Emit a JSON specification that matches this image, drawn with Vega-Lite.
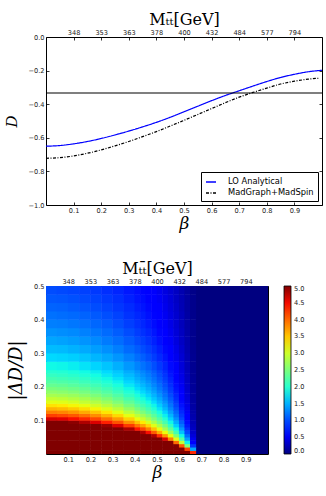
{
"$schema": "https://vega.github.io/schema/vega-lite/v6.json",
"background": "white",
"padding": {"left": 4, "top": 10, "right": 2, "bottom": 2},
"config": {
 "view": {"stroke": "black", "strokeWidth": 1},
 "axis": {"domain": false, "grid": false, "labelFont": "DejaVu Sans", "labelFontSize": 6.6, "labelColor": "#222", "tickColor": "black", "tickSize": -3, "tickWidth": 0.8, "labelPadding": 5, "labelFlush": false, "labelOverlap": false, "titleFont": "DejaVu Serif", "titleFontWeight": "normal", "titleColor": "black"},
 "concat": {"spacing": 26}
},
"datasets": {
 "curves": [
  {"b":0,"d":-0.65,"s":"LO Analytical"},{"b":0.05,"d":-0.646,"s":"LO Analytical"},{"b":0.1,"d":-0.636,"s":"LO Analytical"},{"b":0.15,"d":-0.622,"s":"LO Analytical"},{"b":0.2,"d":-0.604,"s":"LO Analytical"},{"b":0.25,"d":-0.583,"s":"LO Analytical"},{"b":0.3,"d":-0.56,"s":"LO Analytical"},{"b":0.35,"d":-0.535,"s":"LO Analytical"},{"b":0.4,"d":-0.508,"s":"LO Analytical"},{"b":0.45,"d":-0.478,"s":"LO Analytical"},{"b":0.5,"d":-0.445,"s":"LO Analytical"},{"b":0.55,"d":-0.412,"s":"LO Analytical"},{"b":0.6,"d":-0.379,"s":"LO Analytical"},{"b":0.65,"d":-0.348,"s":"LO Analytical"},{"b":0.7,"d":-0.32,"s":"LO Analytical"},{"b":0.75,"d":-0.292,"s":"LO Analytical"},{"b":0.8,"d":-0.265,"s":"LO Analytical"},{"b":0.85,"d":-0.241,"s":"LO Analytical"},{"b":0.9,"d":-0.222,"s":"LO Analytical"},{"b":0.95,"d":-0.207,"s":"LO Analytical"},{"b":1.0,"d":-0.198,"s":"LO Analytical"},
  {"b":0,"d":-0.722,"s":"MadGraph+MadSpin"},{"b":0.05,"d":-0.718,"s":"MadGraph+MadSpin"},{"b":0.1,"d":-0.708,"s":"MadGraph+MadSpin"},{"b":0.15,"d":-0.692,"s":"MadGraph+MadSpin"},{"b":0.2,"d":-0.672,"s":"MadGraph+MadSpin"},{"b":0.25,"d":-0.648,"s":"MadGraph+MadSpin"},{"b":0.3,"d":-0.622,"s":"MadGraph+MadSpin"},{"b":0.35,"d":-0.593,"s":"MadGraph+MadSpin"},{"b":0.4,"d":-0.563,"s":"MadGraph+MadSpin"},{"b":0.45,"d":-0.53,"s":"MadGraph+MadSpin"},{"b":0.5,"d":-0.496,"s":"MadGraph+MadSpin"},{"b":0.55,"d":-0.461,"s":"MadGraph+MadSpin"},{"b":0.6,"d":-0.426,"s":"MadGraph+MadSpin"},{"b":0.65,"d":-0.391,"s":"MadGraph+MadSpin"},{"b":0.7,"d":-0.358,"s":"MadGraph+MadSpin"},{"b":0.75,"d":-0.33,"s":"MadGraph+MadSpin"},{"b":0.8,"d":-0.304,"s":"MadGraph+MadSpin"},{"b":0.85,"d":-0.28,"s":"MadGraph+MadSpin"},{"b":0.9,"d":-0.263,"s":"MadGraph+MadSpin"},{"b":0.95,"d":-0.251,"s":"MadGraph+MadSpin"},{"b":0.99,"d":-0.245,"s":"MadGraph+MadSpin"}
 ],
 "af": [
  {"b":0.025,"y":0.005,"v":5},{"b":0.025,"y":0.015,"v":5},{"b":0.025,"y":0.025,"v":5},{"b":0.025,"y":0.035,"v":5},{"b":0.025,"y":0.045,"v":5},{"b":0.025,"y":0.055,"v":5},{"b":0.025,"y":0.065,"v":5},{"b":0.025,"y":0.075,"v":5},{"b":0.025,"y":0.085,"v":5},{"b":0.025,"y":0.095,"v":5},{"b":0.025,"y":0.105,"v":4.62},{"b":0.025,"y":0.115,"v":4.22},{"b":0.025,"y":0.125,"v":3.88},{"b":0.025,"y":0.135,"v":3.6},{"b":0.025,"y":0.145,"v":3.35},{"b":0.025,"y":0.155,"v":3.13},{"b":0.025,"y":0.165,"v":2.94},{"b":0.025,"y":0.175,"v":2.77},{"b":0.025,"y":0.185,"v":2.62},{"b":0.025,"y":0.195,"v":2.49},{"b":0.025,"y":0.205,"v":2.37},{"b":0.025,"y":0.215,"v":2.26},{"b":0.025,"y":0.225,"v":2.16},{"b":0.025,"y":0.235,"v":2.07},{"b":0.025,"y":0.245,"v":1.98},
  {"b":0.075,"y":0.005,"v":5},{"b":0.075,"y":0.015,"v":5},{"b":0.075,"y":0.025,"v":5},{"b":0.075,"y":0.035,"v":5},{"b":0.075,"y":0.045,"v":5},{"b":0.075,"y":0.055,"v":5},{"b":0.075,"y":0.065,"v":5},{"b":0.075,"y":0.075,"v":5},{"b":0.075,"y":0.085,"v":5},{"b":0.075,"y":0.095,"v":5},{"b":0.075,"y":0.105,"v":4.57},{"b":0.075,"y":0.115,"v":4.17},{"b":0.075,"y":0.125,"v":3.84},{"b":0.075,"y":0.135,"v":3.56},{"b":0.075,"y":0.145,"v":3.31},{"b":0.075,"y":0.155,"v":3.1},{"b":0.075,"y":0.165,"v":2.91},{"b":0.075,"y":0.175,"v":2.74},{"b":0.075,"y":0.185,"v":2.59},{"b":0.075,"y":0.195,"v":2.46},{"b":0.075,"y":0.205,"v":2.34},{"b":0.075,"y":0.215,"v":2.23},{"b":0.075,"y":0.225,"v":2.13},{"b":0.075,"y":0.235,"v":2.04},{"b":0.075,"y":0.245,"v":1.96},
  {"b":0.125,"y":0.005,"v":5},{"b":0.125,"y":0.015,"v":5},{"b":0.125,"y":0.025,"v":5},{"b":0.125,"y":0.035,"v":5},{"b":0.125,"y":0.045,"v":5},{"b":0.125,"y":0.055,"v":5},{"b":0.125,"y":0.065,"v":5},{"b":0.125,"y":0.075,"v":5},{"b":0.125,"y":0.085,"v":5},{"b":0.125,"y":0.095,"v":4.95},{"b":0.125,"y":0.105,"v":4.48},{"b":0.125,"y":0.115,"v":4.09},{"b":0.125,"y":0.125,"v":3.76},{"b":0.125,"y":0.135,"v":3.48},{"b":0.125,"y":0.145,"v":3.24},{"b":0.125,"y":0.155,"v":3.03},{"b":0.125,"y":0.165,"v":2.85},{"b":0.125,"y":0.175,"v":2.69},{"b":0.125,"y":0.185,"v":2.54},{"b":0.125,"y":0.195,"v":2.41},{"b":0.125,"y":0.205,"v":2.29},{"b":0.125,"y":0.215,"v":2.19},{"b":0.125,"y":0.225,"v":2.09},{"b":0.125,"y":0.235,"v":2.0},{"b":0.125,"y":0.245,"v":1.92},
  {"b":0.175,"y":0.005,"v":5},{"b":0.175,"y":0.015,"v":5},{"b":0.175,"y":0.025,"v":5},{"b":0.175,"y":0.035,"v":5},{"b":0.175,"y":0.045,"v":5},{"b":0.175,"y":0.055,"v":5},{"b":0.175,"y":0.065,"v":5},{"b":0.175,"y":0.075,"v":5},{"b":0.175,"y":0.085,"v":5},{"b":0.175,"y":0.095,"v":4.8},{"b":0.175,"y":0.105,"v":4.35},{"b":0.175,"y":0.115,"v":3.97},{"b":0.175,"y":0.125,"v":3.65},{"b":0.175,"y":0.135,"v":3.38},{"b":0.175,"y":0.145,"v":3.15},{"b":0.175,"y":0.155,"v":2.94},{"b":0.175,"y":0.165,"v":2.77},{"b":0.175,"y":0.175,"v":2.61},{"b":0.175,"y":0.185,"v":2.47},{"b":0.175,"y":0.195,"v":2.34},{"b":0.175,"y":0.205,"v":2.23},{"b":0.175,"y":0.215,"v":2.12},{"b":0.175,"y":0.225,"v":2.03},{"b":0.175,"y":0.235,"v":1.94},{"b":0.175,"y":0.245,"v":1.86},
  {"b":0.225,"y":0.005,"v":5},{"b":0.225,"y":0.015,"v":5},{"b":0.225,"y":0.025,"v":5},{"b":0.225,"y":0.035,"v":5},{"b":0.225,"y":0.045,"v":5},{"b":0.225,"y":0.055,"v":5},{"b":0.225,"y":0.065,"v":5},{"b":0.225,"y":0.075,"v":5},{"b":0.225,"y":0.085,"v":5},{"b":0.225,"y":0.095,"v":4.61},{"b":0.225,"y":0.105,"v":4.18},{"b":0.225,"y":0.115,"v":3.81},{"b":0.225,"y":0.125,"v":3.51},{"b":0.225,"y":0.135,"v":3.25},{"b":0.225,"y":0.145,"v":3.02},{"b":0.225,"y":0.155,"v":2.83},{"b":0.225,"y":0.165,"v":2.66},{"b":0.225,"y":0.175,"v":2.51},{"b":0.225,"y":0.185,"v":2.37},{"b":0.225,"y":0.195,"v":2.25},{"b":0.225,"y":0.205,"v":2.14},{"b":0.225,"y":0.215,"v":2.04},{"b":0.225,"y":0.225,"v":1.95},{"b":0.225,"y":0.235,"v":1.87},{"b":0.225,"y":0.245,"v":1.79},
  {"b":0.275,"y":0.005,"v":5},{"b":0.275,"y":0.015,"v":5},{"b":0.275,"y":0.025,"v":5},{"b":0.275,"y":0.035,"v":5},{"b":0.275,"y":0.045,"v":5},{"b":0.275,"y":0.055,"v":5},{"b":0.275,"y":0.065,"v":5},{"b":0.275,"y":0.075,"v":5},{"b":0.275,"y":0.085,"v":4.9},{"b":0.275,"y":0.095,"v":4.39},{"b":0.275,"y":0.105,"v":3.97},{"b":0.275,"y":0.115,"v":3.62},{"b":0.275,"y":0.125,"v":3.33},{"b":0.275,"y":0.135,"v":3.09},{"b":0.275,"y":0.145,"v":2.87},{"b":0.275,"y":0.155,"v":2.69},{"b":0.275,"y":0.165,"v":2.53},{"b":0.275,"y":0.175,"v":2.38},{"b":0.275,"y":0.185,"v":2.25},{"b":0.275,"y":0.195,"v":2.14},{"b":0.275,"y":0.205,"v":2.03},{"b":0.275,"y":0.215,"v":1.94},{"b":0.275,"y":0.225,"v":1.85},{"b":0.275,"y":0.235,"v":1.77},{"b":0.275,"y":0.245,"v":1.7},
  {"b":0.325,"y":0.005,"v":5},{"b":0.325,"y":0.015,"v":5},{"b":0.325,"y":0.025,"v":5},{"b":0.325,"y":0.035,"v":5},{"b":0.325,"y":0.045,"v":5},{"b":0.325,"y":0.055,"v":5},{"b":0.325,"y":0.065,"v":5},{"b":0.325,"y":0.075,"v":5},{"b":0.325,"y":0.085,"v":4.6},{"b":0.325,"y":0.095,"v":4.12},{"b":0.325,"y":0.105,"v":3.73},{"b":0.325,"y":0.115,"v":3.4},{"b":0.325,"y":0.125,"v":3.13},{"b":0.325,"y":0.135,"v":2.9},{"b":0.325,"y":0.145,"v":2.7},{"b":0.325,"y":0.155,"v":2.52},{"b":0.325,"y":0.165,"v":2.37},{"b":0.325,"y":0.175,"v":2.24},{"b":0.325,"y":0.185,"v":2.11},{"b":0.325,"y":0.195,"v":2.01},{"b":0.325,"y":0.205,"v":1.91},{"b":0.325,"y":0.215,"v":1.82},{"b":0.325,"y":0.225,"v":1.74},{"b":0.325,"y":0.235,"v":1.66},{"b":0.325,"y":0.245,"v":1.6},
  {"b":0.375,"y":0.005,"v":5},{"b":0.375,"y":0.015,"v":5},{"b":0.375,"y":0.025,"v":5},{"b":0.375,"y":0.035,"v":5},{"b":0.375,"y":0.045,"v":5},{"b":0.375,"y":0.055,"v":5},{"b":0.375,"y":0.065,"v":5},{"b":0.375,"y":0.075,"v":4.81},{"b":0.375,"y":0.085,"v":4.25},{"b":0.375,"y":0.095,"v":3.8},{"b":0.375,"y":0.105,"v":3.44},{"b":0.375,"y":0.115,"v":3.14},{"b":0.375,"y":0.125,"v":2.89},{"b":0.375,"y":0.135,"v":2.67},{"b":0.375,"y":0.145,"v":2.49},{"b":0.375,"y":0.155,"v":2.33},{"b":0.375,"y":0.165,"v":2.19},{"b":0.375,"y":0.175,"v":2.06},{"b":0.375,"y":0.185,"v":1.95},{"b":0.375,"y":0.195,"v":1.85},{"b":0.375,"y":0.205,"v":1.76},{"b":0.375,"y":0.215,"v":1.68},{"b":0.375,"y":0.225,"v":1.6},{"b":0.375,"y":0.235,"v":1.54},{"b":0.375,"y":0.245,"v":1.47}
 ],
 "ac": [
  {"b":0.025,"y":0.2625,"v":1.85},{"b":0.025,"y":0.2875,"v":1.69},{"b":0.025,"y":0.3125,"v":1.55},{"b":0.025,"y":0.3375,"v":1.44},{"b":0.025,"y":0.3625,"v":1.34},{"b":0.025,"y":0.3875,"v":1.25},{"b":0.025,"y":0.4125,"v":1.18},{"b":0.025,"y":0.4375,"v":1.11},{"b":0.025,"y":0.4625,"v":1.05},{"b":0.025,"y":0.4875,"v":1.0},
  {"b":0.075,"y":0.2625,"v":1.83},{"b":0.075,"y":0.2875,"v":1.67},{"b":0.075,"y":0.3125,"v":1.54},{"b":0.075,"y":0.3375,"v":1.42},{"b":0.075,"y":0.3625,"v":1.32},{"b":0.075,"y":0.3875,"v":1.24},{"b":0.075,"y":0.4125,"v":1.16},{"b":0.075,"y":0.4375,"v":1.1},{"b":0.075,"y":0.4625,"v":1.04},{"b":0.075,"y":0.4875,"v":0.98},
  {"b":0.125,"y":0.2625,"v":1.79},{"b":0.125,"y":0.2875,"v":1.64},{"b":0.125,"y":0.3125,"v":1.5},{"b":0.125,"y":0.3375,"v":1.39},{"b":0.125,"y":0.3625,"v":1.3},{"b":0.125,"y":0.3875,"v":1.21},{"b":0.125,"y":0.4125,"v":1.14},{"b":0.125,"y":0.4375,"v":1.07},{"b":0.125,"y":0.4625,"v":1.02},{"b":0.125,"y":0.4875,"v":0.96},
  {"b":0.175,"y":0.2625,"v":1.74},{"b":0.175,"y":0.2875,"v":1.59},{"b":0.175,"y":0.3125,"v":1.46},{"b":0.175,"y":0.3375,"v":1.35},{"b":0.175,"y":0.3625,"v":1.26},{"b":0.175,"y":0.3875,"v":1.18},{"b":0.175,"y":0.4125,"v":1.11},{"b":0.175,"y":0.4375,"v":1.04},{"b":0.175,"y":0.4625,"v":0.99},{"b":0.175,"y":0.4875,"v":0.94},
  {"b":0.225,"y":0.2625,"v":1.67},{"b":0.225,"y":0.2875,"v":1.52},{"b":0.225,"y":0.3125,"v":1.4},{"b":0.225,"y":0.3375,"v":1.3},{"b":0.225,"y":0.3625,"v":1.21},{"b":0.225,"y":0.3875,"v":1.13},{"b":0.225,"y":0.4125,"v":1.06},{"b":0.225,"y":0.4375,"v":1.0},{"b":0.225,"y":0.4625,"v":0.95},{"b":0.225,"y":0.4875,"v":0.9},
  {"b":0.275,"y":0.2625,"v":1.59},{"b":0.275,"y":0.2875,"v":1.45},{"b":0.275,"y":0.3125,"v":1.33},{"b":0.275,"y":0.3375,"v":1.23},{"b":0.275,"y":0.3625,"v":1.15},{"b":0.275,"y":0.3875,"v":1.08},{"b":0.275,"y":0.4125,"v":1.01},{"b":0.275,"y":0.4375,"v":0.95},{"b":0.275,"y":0.4625,"v":0.9},{"b":0.275,"y":0.4875,"v":0.85},
  {"b":0.325,"y":0.2625,"v":1.49},{"b":0.325,"y":0.2875,"v":1.36},{"b":0.325,"y":0.3125,"v":1.25},{"b":0.325,"y":0.3375,"v":1.16},{"b":0.325,"y":0.3625,"v":1.08},{"b":0.325,"y":0.3875,"v":1.01},{"b":0.325,"y":0.4125,"v":0.95},{"b":0.325,"y":0.4375,"v":0.89},{"b":0.325,"y":0.4625,"v":0.85},{"b":0.325,"y":0.4875,"v":0.8},
  {"b":0.375,"y":0.2625,"v":1.37},{"b":0.375,"y":0.2875,"v":1.26},{"b":0.375,"y":0.3125,"v":1.15},{"b":0.375,"y":0.3375,"v":1.07},{"b":0.375,"y":0.3625,"v":1.0},{"b":0.375,"y":0.3875,"v":0.93},{"b":0.375,"y":0.4125,"v":0.87},{"b":0.375,"y":0.4375,"v":0.83},{"b":0.375,"y":0.4625,"v":0.78},{"b":0.375,"y":0.4875,"v":0.74}
 ],
 "bf": [
  {"b":0.4125,"y":0.005,"v":5},{"b":0.4125,"y":0.015,"v":5},{"b":0.4125,"y":0.025,"v":5},{"b":0.4125,"y":0.035,"v":5},{"b":0.4125,"y":0.045,"v":5},{"b":0.4125,"y":0.055,"v":5},{"b":0.4125,"y":0.065,"v":5},{"b":0.4125,"y":0.075,"v":4.45},{"b":0.4125,"y":0.085,"v":3.93},{"b":0.4125,"y":0.095,"v":3.52},{"b":0.4125,"y":0.105,"v":3.18},{"b":0.4125,"y":0.115,"v":2.9},{"b":0.4125,"y":0.125,"v":2.67},{"b":0.4125,"y":0.135,"v":2.47},{"b":0.4125,"y":0.145,"v":2.3},{"b":0.4125,"y":0.155,"v":2.15},{"b":0.4125,"y":0.165,"v":2.02},{"b":0.4125,"y":0.175,"v":1.91},{"b":0.4125,"y":0.185,"v":1.81},{"b":0.4125,"y":0.195,"v":1.71},{"b":0.4125,"y":0.205,"v":1.63},{"b":0.4125,"y":0.215,"v":1.55},{"b":0.4125,"y":0.225,"v":1.48},{"b":0.4125,"y":0.235,"v":1.42},{"b":0.4125,"y":0.245,"v":1.36},
  {"b":0.4375,"y":0.005,"v":5},{"b":0.4375,"y":0.015,"v":5},{"b":0.4375,"y":0.025,"v":5},{"b":0.4375,"y":0.035,"v":5},{"b":0.4375,"y":0.045,"v":5},{"b":0.4375,"y":0.055,"v":5},{"b":0.4375,"y":0.065,"v":4.82},{"b":0.4375,"y":0.075,"v":4.18},{"b":0.4375,"y":0.085,"v":3.69},{"b":0.4375,"y":0.095,"v":3.3},{"b":0.4375,"y":0.105,"v":2.99},{"b":0.4375,"y":0.115,"v":2.73},{"b":0.4375,"y":0.125,"v":2.51},{"b":0.4375,"y":0.135,"v":2.32},{"b":0.4375,"y":0.145,"v":2.16},{"b":0.4375,"y":0.155,"v":2.02},{"b":0.4375,"y":0.165,"v":1.9},{"b":0.4375,"y":0.175,"v":1.79},{"b":0.4375,"y":0.185,"v":1.69},{"b":0.4375,"y":0.195,"v":1.61},{"b":0.4375,"y":0.205,"v":1.53},{"b":0.4375,"y":0.215,"v":1.46},{"b":0.4375,"y":0.225,"v":1.39},{"b":0.4375,"y":0.235,"v":1.33},{"b":0.4375,"y":0.245,"v":1.28},
  {"b":0.4625,"y":0.005,"v":5},{"b":0.4625,"y":0.015,"v":5},{"b":0.4625,"y":0.025,"v":5},{"b":0.4625,"y":0.035,"v":5},{"b":0.4625,"y":0.045,"v":5},{"b":0.4625,"y":0.055,"v":5},{"b":0.4625,"y":0.065,"v":4.47},{"b":0.4625,"y":0.075,"v":3.87},{"b":0.4625,"y":0.085,"v":3.42},{"b":0.4625,"y":0.095,"v":3.06},{"b":0.4625,"y":0.105,"v":2.77},{"b":0.4625,"y":0.115,"v":2.53},{"b":0.4625,"y":0.125,"v":2.32},{"b":0.4625,"y":0.135,"v":2.15},{"b":0.4625,"y":0.145,"v":2.0},{"b":0.4625,"y":0.155,"v":1.87},{"b":0.4625,"y":0.165,"v":1.76},{"b":0.4625,"y":0.175,"v":1.66},{"b":0.4625,"y":0.185,"v":1.57},{"b":0.4625,"y":0.195,"v":1.49},{"b":0.4625,"y":0.205,"v":1.42},{"b":0.4625,"y":0.215,"v":1.35},{"b":0.4625,"y":0.225,"v":1.29},{"b":0.4625,"y":0.235,"v":1.24},{"b":0.4625,"y":0.245,"v":1.19},
  {"b":0.4875,"y":0.005,"v":5},{"b":0.4875,"y":0.015,"v":5},{"b":0.4875,"y":0.025,"v":5},{"b":0.4875,"y":0.035,"v":5},{"b":0.4875,"y":0.045,"v":5},{"b":0.4875,"y":0.055,"v":4.81},{"b":0.4875,"y":0.065,"v":4.07},{"b":0.4875,"y":0.075,"v":3.53},{"b":0.4875,"y":0.085,"v":3.11},{"b":0.4875,"y":0.095,"v":2.79},{"b":0.4875,"y":0.105,"v":2.52},{"b":0.4875,"y":0.115,"v":2.3},{"b":0.4875,"y":0.125,"v":2.12},{"b":0.4875,"y":0.135,"v":1.96},{"b":0.4875,"y":0.145,"v":1.83},{"b":0.4875,"y":0.155,"v":1.71},{"b":0.4875,"y":0.165,"v":1.6},{"b":0.4875,"y":0.175,"v":1.51},{"b":0.4875,"y":0.185,"v":1.43},{"b":0.4875,"y":0.195,"v":1.36},{"b":0.4875,"y":0.205,"v":1.29},{"b":0.4875,"y":0.215,"v":1.23},{"b":0.4875,"y":0.225,"v":1.18},{"b":0.4875,"y":0.235,"v":1.13},{"b":0.4875,"y":0.245,"v":1.08},
  {"b":0.5125,"y":0.005,"v":5},{"b":0.5125,"y":0.015,"v":5},{"b":0.5125,"y":0.025,"v":5},{"b":0.5125,"y":0.035,"v":5},{"b":0.5125,"y":0.045,"v":5},{"b":0.5125,"y":0.055,"v":4.31},{"b":0.5125,"y":0.065,"v":3.64},{"b":0.5125,"y":0.075,"v":3.16},{"b":0.5125,"y":0.085,"v":2.79},{"b":0.5125,"y":0.095,"v":2.49},{"b":0.5125,"y":0.105,"v":2.26},{"b":0.5125,"y":0.115,"v":2.06},{"b":0.5125,"y":0.125,"v":1.9},{"b":0.5125,"y":0.135,"v":1.75},{"b":0.5125,"y":0.145,"v":1.63},{"b":0.5125,"y":0.155,"v":1.53},{"b":0.5125,"y":0.165,"v":1.44},{"b":0.5125,"y":0.175,"v":1.35},{"b":0.5125,"y":0.185,"v":1.28},{"b":0.5125,"y":0.195,"v":1.21},{"b":0.5125,"y":0.205,"v":1.16},{"b":0.5125,"y":0.215,"v":1.1},{"b":0.5125,"y":0.225,"v":1.05},{"b":0.5125,"y":0.235,"v":1.01},{"b":0.5125,"y":0.245,"v":0.97},
  {"b":0.5375,"y":0.005,"v":5},{"b":0.5375,"y":0.015,"v":5},{"b":0.5375,"y":0.025,"v":5},{"b":0.5375,"y":0.035,"v":5},{"b":0.5375,"y":0.045,"v":4.6},{"b":0.5375,"y":0.055,"v":3.76},{"b":0.5375,"y":0.065,"v":3.18},{"b":0.5375,"y":0.075,"v":2.76},{"b":0.5375,"y":0.085,"v":2.44},{"b":0.5375,"y":0.095,"v":2.18},{"b":0.5375,"y":0.105,"v":1.97},{"b":0.5375,"y":0.115,"v":1.8},{"b":0.5375,"y":0.125,"v":1.66},{"b":0.5375,"y":0.135,"v":1.53},{"b":0.5375,"y":0.145,"v":1.43},{"b":0.5375,"y":0.155,"v":1.34},{"b":0.5375,"y":0.165,"v":1.25},{"b":0.5375,"y":0.175,"v":1.18},{"b":0.5375,"y":0.185,"v":1.12},{"b":0.5375,"y":0.195,"v":1.06},{"b":0.5375,"y":0.205,"v":1.01},{"b":0.5375,"y":0.215,"v":0.96},{"b":0.5375,"y":0.225,"v":0.92},{"b":0.5375,"y":0.235,"v":0.88},{"b":0.5375,"y":0.245,"v":0.84},
  {"b":0.5625,"y":0.005,"v":5},{"b":0.5625,"y":0.015,"v":5},{"b":0.5625,"y":0.025,"v":5},{"b":0.5625,"y":0.035,"v":4.99},{"b":0.5625,"y":0.045,"v":3.88},{"b":0.5625,"y":0.055,"v":3.17},{"b":0.5625,"y":0.065,"v":2.69},{"b":0.5625,"y":0.075,"v":2.33},{"b":0.5625,"y":0.085,"v":2.05},{"b":0.5625,"y":0.095,"v":1.84},{"b":0.5625,"y":0.105,"v":1.66},{"b":0.5625,"y":0.115,"v":1.52},{"b":0.5625,"y":0.125,"v":1.4},{"b":0.5625,"y":0.135,"v":1.29},{"b":0.5625,"y":0.145,"v":1.2},{"b":0.5625,"y":0.155,"v":1.13},{"b":0.5625,"y":0.165,"v":1.06},{"b":0.5625,"y":0.175,"v":1.0},{"b":0.5625,"y":0.185,"v":0.94},{"b":0.5625,"y":0.195,"v":0.9},{"b":0.5625,"y":0.205,"v":0.85},{"b":0.5625,"y":0.215,"v":0.81},{"b":0.5625,"y":0.225,"v":0.78},{"b":0.5625,"y":0.235,"v":0.74},{"b":0.5625,"y":0.245,"v":0.71},
  {"b":0.5875,"y":0.005,"v":5},{"b":0.5875,"y":0.015,"v":5},{"b":0.5875,"y":0.025,"v":5},{"b":0.5875,"y":0.035,"v":3.98},{"b":0.5875,"y":0.045,"v":3.1},{"b":0.5875,"y":0.055,"v":2.53},{"b":0.5875,"y":0.065,"v":2.14},{"b":0.5875,"y":0.075,"v":1.86},{"b":0.5875,"y":0.085,"v":1.64},{"b":0.5875,"y":0.095,"v":1.47},{"b":0.5875,"y":0.105,"v":1.33},{"b":0.5875,"y":0.115,"v":1.21},{"b":0.5875,"y":0.125,"v":1.12},{"b":0.5875,"y":0.135,"v":1.03},{"b":0.5875,"y":0.145,"v":0.96},{"b":0.5875,"y":0.155,"v":0.9},{"b":0.5875,"y":0.165,"v":0.84},{"b":0.5875,"y":0.175,"v":0.8},{"b":0.5875,"y":0.185,"v":0.75},{"b":0.5875,"y":0.195,"v":0.71},{"b":0.5875,"y":0.205,"v":0.68},{"b":0.5875,"y":0.215,"v":0.65},{"b":0.5875,"y":0.225,"v":0.62},{"b":0.5875,"y":0.235,"v":0.59},{"b":0.5875,"y":0.245,"v":0.57},
  {"b":0.6125,"y":0.005,"v":5},{"b":0.6125,"y":0.015,"v":5},{"b":0.6125,"y":0.025,"v":4.09},{"b":0.6125,"y":0.035,"v":2.92},{"b":0.6125,"y":0.045,"v":2.27},{"b":0.6125,"y":0.055,"v":1.86},{"b":0.6125,"y":0.065,"v":1.57},{"b":0.6125,"y":0.075,"v":1.36},{"b":0.6125,"y":0.085,"v":1.2},{"b":0.6125,"y":0.095,"v":1.08},{"b":0.6125,"y":0.105,"v":0.97},{"b":0.6125,"y":0.115,"v":0.89},{"b":0.6125,"y":0.125,"v":0.82},{"b":0.6125,"y":0.135,"v":0.76},{"b":0.6125,"y":0.145,"v":0.71},{"b":0.6125,"y":0.155,"v":0.66},{"b":0.6125,"y":0.165,"v":0.62},{"b":0.6125,"y":0.175,"v":0.58},{"b":0.6125,"y":0.185,"v":0.55},{"b":0.6125,"y":0.195,"v":0.52},{"b":0.6125,"y":0.205,"v":0.5},{"b":0.6125,"y":0.215,"v":0.48},{"b":0.6125,"y":0.225,"v":0.45},{"b":0.6125,"y":0.235,"v":0.44},{"b":0.6125,"y":0.245,"v":0.42},
  {"b":0.6375,"y":0.005,"v":5},{"b":0.6375,"y":0.015,"v":4.21},{"b":0.6375,"y":0.025,"v":2.53},{"b":0.6375,"y":0.035,"v":1.81},{"b":0.6375,"y":0.045,"v":1.4},{"b":0.6375,"y":0.055,"v":1.15},{"b":0.6375,"y":0.065,"v":0.97},{"b":0.6375,"y":0.075,"v":0.84},{"b":0.6375,"y":0.085,"v":0.74},{"b":0.6375,"y":0.095,"v":0.67},{"b":0.6375,"y":0.105,"v":0.6},{"b":0.6375,"y":0.115,"v":0.55},{"b":0.6375,"y":0.125,"v":0.51},{"b":0.6375,"y":0.135,"v":0.47},{"b":0.6375,"y":0.145,"v":0.44},{"b":0.6375,"y":0.155,"v":0.41},{"b":0.6375,"y":0.165,"v":0.38},{"b":0.6375,"y":0.175,"v":0.36},{"b":0.6375,"y":0.185,"v":0.34},{"b":0.6375,"y":0.195,"v":0.32},{"b":0.6375,"y":0.205,"v":0.31},{"b":0.6375,"y":0.215,"v":0.29},{"b":0.6375,"y":0.225,"v":0.28},{"b":0.6375,"y":0.235,"v":0.27},{"b":0.6375,"y":0.245,"v":0.26},
  {"b":0.6625,"y":0.005,"v":4.34},{"b":0.6625,"y":0.015,"v":1.45},{"b":0.6625,"y":0.025,"v":0.87},{"b":0.6625,"y":0.035,"v":0.62},{"b":0.6625,"y":0.045,"v":0.48},{"b":0.6625,"y":0.055,"v":0.39},{"b":0.6625,"y":0.065,"v":0.33},{"b":0.6625,"y":0.075,"v":0.29},{"b":0.6625,"y":0.085,"v":0.26},{"b":0.6625,"y":0.095,"v":0.23},{"b":0.6625,"y":0.105,"v":0.21},{"b":0.6625,"y":0.115,"v":0.19},{"b":0.6625,"y":0.125,"v":0.17},{"b":0.6625,"y":0.135,"v":0.16},{"b":0.6625,"y":0.145,"v":0.15},{"b":0.6625,"y":0.155,"v":0.14},{"b":0.6625,"y":0.165,"v":0.13},{"b":0.6625,"y":0.175,"v":0.12},{"b":0.6625,"y":0.185,"v":0.12},{"b":0.6625,"y":0.195,"v":0.11},{"b":0.6625,"y":0.205,"v":0.11},{"b":0.6625,"y":0.215,"v":0.1},{"b":0.6625,"y":0.225,"v":0.1},{"b":0.6625,"y":0.235,"v":0.09},{"b":0.6625,"y":0.245,"v":0.09}
 ],
 "bc": [
  {"b":0.4125,"y":0.2625,"v":1.27},{"b":0.4125,"y":0.2875,"v":1.16},{"b":0.4125,"y":0.3125,"v":1.07},{"b":0.4125,"y":0.3375,"v":0.99},{"b":0.4125,"y":0.3625,"v":0.92},{"b":0.4125,"y":0.3875,"v":0.86},{"b":0.4125,"y":0.4125,"v":0.81},{"b":0.4125,"y":0.4375,"v":0.76},{"b":0.4125,"y":0.4625,"v":0.72},{"b":0.4125,"y":0.4875,"v":0.69},
  {"b":0.4375,"y":0.2625,"v":1.19},{"b":0.4375,"y":0.2875,"v":1.09},{"b":0.4375,"y":0.3125,"v":1.0},{"b":0.4375,"y":0.3375,"v":0.93},{"b":0.4375,"y":0.3625,"v":0.86},{"b":0.4375,"y":0.3875,"v":0.81},{"b":0.4375,"y":0.4125,"v":0.76},{"b":0.4375,"y":0.4375,"v":0.72},{"b":0.4375,"y":0.4625,"v":0.68},{"b":0.4375,"y":0.4875,"v":0.64},
  {"b":0.4625,"y":0.2625,"v":1.11},{"b":0.4625,"y":0.2875,"v":1.01},{"b":0.4625,"y":0.3125,"v":0.93},{"b":0.4625,"y":0.3375,"v":0.86},{"b":0.4625,"y":0.3625,"v":0.8},{"b":0.4625,"y":0.3875,"v":0.75},{"b":0.4625,"y":0.4125,"v":0.7},{"b":0.4625,"y":0.4375,"v":0.66},{"b":0.4625,"y":0.4625,"v":0.63},{"b":0.4625,"y":0.4875,"v":0.6},
  {"b":0.4875,"y":0.2625,"v":1.01},{"b":0.4875,"y":0.2875,"v":0.92},{"b":0.4875,"y":0.3125,"v":0.85},{"b":0.4875,"y":0.3375,"v":0.78},{"b":0.4875,"y":0.3625,"v":0.73},{"b":0.4875,"y":0.3875,"v":0.68},{"b":0.4875,"y":0.4125,"v":0.64},{"b":0.4875,"y":0.4375,"v":0.61},{"b":0.4875,"y":0.4625,"v":0.57},{"b":0.4875,"y":0.4875,"v":0.54},
  {"b":0.5125,"y":0.2625,"v":0.9},{"b":0.5125,"y":0.2875,"v":0.82},{"b":0.5125,"y":0.3125,"v":0.76},{"b":0.5125,"y":0.3375,"v":0.7},{"b":0.5125,"y":0.3625,"v":0.65},{"b":0.5125,"y":0.3875,"v":0.61},{"b":0.5125,"y":0.4125,"v":0.57},{"b":0.5125,"y":0.4375,"v":0.54},{"b":0.5125,"y":0.4625,"v":0.51},{"b":0.5125,"y":0.4875,"v":0.49},
  {"b":0.5375,"y":0.2625,"v":0.79},{"b":0.5375,"y":0.2875,"v":0.72},{"b":0.5375,"y":0.3125,"v":0.66},{"b":0.5375,"y":0.3375,"v":0.61},{"b":0.5375,"y":0.3625,"v":0.57},{"b":0.5375,"y":0.3875,"v":0.53},{"b":0.5375,"y":0.4125,"v":0.5},{"b":0.5375,"y":0.4375,"v":0.47},{"b":0.5375,"y":0.4625,"v":0.45},{"b":0.5375,"y":0.4875,"v":0.42},
  {"b":0.5625,"y":0.2625,"v":0.67},{"b":0.5625,"y":0.2875,"v":0.61},{"b":0.5625,"y":0.3125,"v":0.56},{"b":0.5625,"y":0.3375,"v":0.52},{"b":0.5625,"y":0.3625,"v":0.48},{"b":0.5625,"y":0.3875,"v":0.45},{"b":0.5625,"y":0.4125,"v":0.42},{"b":0.5625,"y":0.4375,"v":0.4},{"b":0.5625,"y":0.4625,"v":0.38},{"b":0.5625,"y":0.4875,"v":0.36},
  {"b":0.5875,"y":0.2625,"v":0.53},{"b":0.5875,"y":0.2875,"v":0.48},{"b":0.5875,"y":0.3125,"v":0.45},{"b":0.5875,"y":0.3375,"v":0.41},{"b":0.5875,"y":0.3625,"v":0.38},{"b":0.5875,"y":0.3875,"v":0.36},{"b":0.5875,"y":0.4125,"v":0.34},{"b":0.5875,"y":0.4375,"v":0.32},{"b":0.5875,"y":0.4625,"v":0.3},{"b":0.5875,"y":0.4875,"v":0.29},
  {"b":0.6125,"y":0.2625,"v":0.39},{"b":0.6125,"y":0.2875,"v":0.36},{"b":0.6125,"y":0.3125,"v":0.33},{"b":0.6125,"y":0.3375,"v":0.3},{"b":0.6125,"y":0.3625,"v":0.28},{"b":0.6125,"y":0.3875,"v":0.26},{"b":0.6125,"y":0.4125,"v":0.25},{"b":0.6125,"y":0.4375,"v":0.23},{"b":0.6125,"y":0.4625,"v":0.22},{"b":0.6125,"y":0.4875,"v":0.21},
  {"b":0.6375,"y":0.2625,"v":0.24},{"b":0.6375,"y":0.2875,"v":0.22},{"b":0.6375,"y":0.3125,"v":0.2},{"b":0.6375,"y":0.3375,"v":0.19},{"b":0.6375,"y":0.3625,"v":0.17},{"b":0.6375,"y":0.3875,"v":0.16},{"b":0.6375,"y":0.4125,"v":0.15},{"b":0.6375,"y":0.4375,"v":0.14},{"b":0.6375,"y":0.4625,"v":0.14},{"b":0.6375,"y":0.4875,"v":0.13},
  {"b":0.6625,"y":0.2625,"v":0.08},{"b":0.6625,"y":0.2875,"v":0.08},{"b":0.6625,"y":0.3125,"v":0.07},{"b":0.6625,"y":0.3375,"v":0.06},{"b":0.6625,"y":0.3625,"v":0.06},{"b":0.6625,"y":0.3875,"v":0.06},{"b":0.6625,"y":0.4125,"v":0.05},{"b":0.6625,"y":0.4375,"v":0.05},{"b":0.6625,"y":0.4625,"v":0.05},{"b":0.6625,"y":0.4875,"v":0.04}
 ]
},
"vconcat": [
 {
  "width": 276, "height": 168,
  "layer": [
   {
    "data": {"name": "curves"},
    "mark": {"type": "line", "strokeWidth": 1.2, "interpolate": "monotone"},
    "encoding": {
     "x": {"field": "b", "type": "quantitative", "scale": {"domain": [0, 1], "nice": false},
           "axis": {"orient": "bottom", "values": [0.1,0.2,0.3,0.4,0.5,0.6,0.7,0.8,0.9], "format": ".1f", "title": "β", "titleFontStyle": "italic", "titleFontSize": 17, "titlePadding": 2}},
     "y": {"field": "d", "type": "quantitative", "scale": {"domain": [-1, 0], "nice": false},
           "axis": {"orient": "left", "values": [-1,-0.8,-0.6,-0.4,-0.2,0], "format": ".1f", "title": "D", "titleFontStyle": "italic", "titleFontSize": 15, "titlePadding": 8}},
     "color": {"field": "s", "type": "nominal", "scale": {"domain": ["LO Analytical", "MadGraph+MadSpin"], "range": ["#0000ff", "#000000"]},
               "legend": {"title": null, "orient": "bottom-right", "offset": 4, "fillColor": "white", "strokeColor": "black", "padding": 4, "symbolType": "stroke", "symbolSize": 100, "symbolStrokeWidth": 1.3, "labelFont": "DejaVu Sans", "labelFontSize": 8.3, "labelColor": "black", "labelOffset": 11, "rowPadding": 1}},
     "strokeDash": {"field": "s", "type": "nominal", "scale": {"domain": ["LO Analytical", "MadGraph+MadSpin"], "range": [[1, 0], [3, 1.5, 1, 1.5]]},
               "legend": {"title": null, "orient": "bottom-right", "offset": 4, "fillColor": "white", "strokeColor": "black", "padding": 4, "symbolType": "stroke", "symbolSize": 100, "symbolStrokeWidth": 1.3, "labelFont": "DejaVu Sans", "labelFontSize": 8.3, "labelColor": "black", "labelOffset": 11, "rowPadding": 1}}
    }
   },
   {
    "data": {"values": [{"b0": 0, "b1": 1, "d": -0.3333}]},
    "mark": {"type": "rule", "color": "black", "strokeWidth": 1.1},
    "encoding": {
     "x": {"field": "b0", "type": "quantitative",
           "axis": {"orient": "top", "values": [0.1,0.2,0.3,0.4,0.5,0.6,0.7,0.8,0.9], "labelExpr": "['','348','353','363','378','400','432','484','577','794'][round(datum.value*10)]", "title": "Mₜₜ̄[GeV]", "titleFontSize": 16, "titlePadding": 2}},
     "x2": {"field": "b1"},
     "y": {"field": "d", "type": "quantitative",
           "axis": {"orient": "right", "values": [-1,-0.8,-0.6,-0.4,-0.2,0], "labels": false, "title": null}}
    }
   }
  ],
  "resolve": {"axis": {"x": "independent", "y": "independent"}}
 },
 {
  "width": 222, "height": 168,
  "layer": [
   {
    "data": {"values": [{"b0": 0.675, "b1": 1, "y0": 0, "y1": 0.5, "v": 0}]},
    "mark": {"type": "rect"},
    "encoding": {
     "x": {"field": "b0", "type": "quantitative", "scale": {"domain": [0, 1], "nice": false},
           "axis": {"orient": "bottom", "values": [0.1,0.2,0.3,0.4,0.5,0.6,0.7,0.8,0.9], "format": ".1f", "title": "β", "titleFontStyle": "italic", "titleFontSize": 17, "titlePadding": 2}},
     "x2": {"field": "b1"},
     "y": {"field": "y0", "type": "quantitative", "scale": {"domain": [0, 0.5], "nice": false},
           "axis": {"orient": "left", "values": [0.1,0.2,0.3,0.4,0.5], "format": ".1f", "title": "|ΔD/D|", "titleFontStyle": "italic", "titleFontSize": 18, "titlePadding": 8}},
     "y2": {"field": "y1"},
     "color": {"field": "v", "type": "quantitative",
               "scale": {"domain": [0, 0.55, 0.625, 1.7, 1.875, 3.2, 3.3, 4.45, 4.55, 5], "range": ["#000080", "#0000ff", "#0000ff", "#00dbff", "#14ffe2", "#eeff08", "#ffec00", "#ff1300", "#e80000", "#800000"], "interpolate": "rgb", "clamp": true},
               "legend": {"type": "gradient", "title": null, "direction": "vertical", "gradientLength": 168, "gradientThickness": 7, "values": [0,0.5,1,1.5,2,2.5,3,3.5,4,4.5,5], "format": ".1f", "labelFont": "DejaVu Sans", "labelFontSize": 6.6, "labelColor": "#222", "gradientStrokeColor": "black", "gradientStrokeWidth": 0.8, "offset": 15, "labelOffset": 3, "labelOverlap": false}}
    }
   },
   {
    "data": {"name": "af"},
    "mark": {"type": "rect", "width": 11.6, "height": 3.9, "clip": true},
    "encoding": {
     "x": {"field": "b", "type": "quantitative",
           "axis": {"orient": "top", "values": [0.1,0.2,0.3,0.4,0.5,0.6,0.7,0.8,0.9], "labelExpr": "['','348','353','363','378','400','432','484','577','794'][round(datum.value*10)]", "title": "Mₜₜ̄[GeV]", "titleFontSize": 16, "titlePadding": 2}},
     "y": {"field": "y", "type": "quantitative",
           "axis": {"orient": "right", "values": [0.1,0.2,0.3,0.4,0.5], "labels": false, "title": null}},
     "color": {"field": "v", "type": "quantitative"}
    }
   },
   {
    "data": {"name": "ac"},
    "mark": {"type": "rect", "width": 11.6, "height": 8.9, "clip": true},
    "encoding": {
     "x": {"field": "b", "type": "quantitative", "axis": null},
     "y": {"field": "y", "type": "quantitative", "axis": null},
     "color": {"field": "v", "type": "quantitative"}
    }
   },
   {
    "data": {"name": "bf"},
    "mark": {"type": "rect", "width": 6.1, "height": 3.9, "clip": true},
    "encoding": {
     "x": {"field": "b", "type": "quantitative", "axis": null},
     "y": {"field": "y", "type": "quantitative", "axis": null},
     "color": {"field": "v", "type": "quantitative"}
    }
   },
   {
    "data": {"name": "bc"},
    "mark": {"type": "rect", "width": 6.1, "height": 8.9, "clip": true},
    "encoding": {
     "x": {"field": "b", "type": "quantitative", "axis": null},
     "y": {"field": "y", "type": "quantitative", "axis": null},
     "color": {"field": "v", "type": "quantitative"}
    }
   }
  ],
  "resolve": {"axis": {"x": "independent", "y": "independent"}}
 }
],
"resolve": {"scale": {"color": "independent", "strokeDash": "independent"}, "legend": {"color": "independent", "strokeDash": "independent"}}
}
